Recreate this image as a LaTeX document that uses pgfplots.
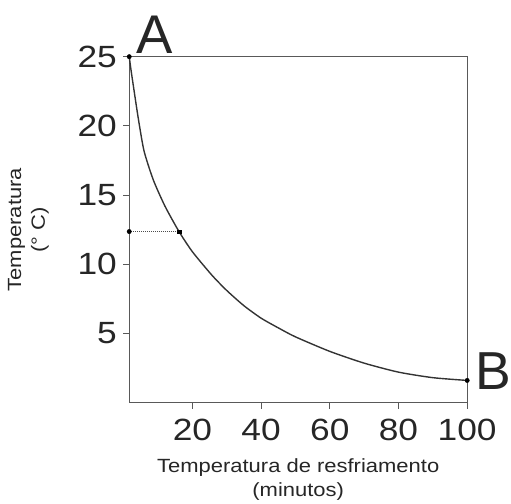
\documentclass[border=0pt]{standalone}
\usepackage{fontspec}
\setmainfont{Liberation Sans}
\newfontfamily\wide{Liberation Sans}[FakeStretch=1.15]
\usepackage{pgfplots}
\pgfplotsset{compat=1.18}

\begin{document}
\begin{tikzpicture}
\begin{axis}[
  scale only axis,
  width=340bp, height=348bp,
  xmin=1.6, xmax=100, ymin=0, ymax=25,
  xtick={20,40,60,80,100},
  ytick={5,10,15,20,25},
  xtick pos=bottom, ytick pos=left,
  tick align=outside, major tick length=6bp,
  axis line style={gray!70!black, line width=0.8bp},
  tick style={gray!70!black, line width=0.8bp},
  /pgf/number format/assume math mode=true,
  tick label style={font=\wide\fontsize{31}{34}\selectfont, text=black!85},
  xticklabel style={yshift=-7bp},
  yticklabel style={xshift=-3bp},
  xlabel={Temperatura de resfriamento\\(minutos)},
  ylabel={Temperatura\\(° C)},
  label style={font=\wide\fontsize{19.3}{24}\selectfont, align=center, text=black!85},
  xlabel style={yshift=-11bp},
  ylabel style={yshift=22bp},
  clip=false,
]
% cooling curve
\addplot[black!80, line width=1.4bp, smooth, tension=0.4] coordinates {
  (1.6,25.0) (2.2,23.9) (2.8,22.9) (4.2,20.6) (5.9,18.2) (8.6,16.1)
  (12,14.2) (16.1,12.36) (20,10.9) (25.7,9.2) (30,8.1) (35,7.0)
  (40,6.1) (45,5.4) (50,4.75) (60,3.7) (70,2.85) (80,2.2) (90,1.8)
  (100,1.6)
};
% half-temperature reading
\addplot[black!70, densely dotted, line width=1bp] coordinates {(1.6,12.36) (16.1,12.36)};
\addplot[only marks, mark=*, mark size=2.2bp, black] coordinates {(1.6,25) (100,1.6) (1.6,12.36)};
\addplot[only marks, mark=square*, mark size=1.8bp, black] coordinates {(16.1,12.36)};
\node[anchor=south west, inner sep=0pt, font=\fontsize{55}{58}\selectfont, text=black!85]
  at (axis cs:1.6,25) [xshift=7bp, yshift=3bp] {A};
\node[anchor=west, inner sep=0pt, font=\fontsize{54}{58}\selectfont, text=black!85]
  at (axis cs:100,1.6) [xshift=8bp, yshift=9bp] {B};
\end{axis}
% page size matching the reference
\path ([xshift=-130bp, yshift=-96bp]current axis.south west)
      ([xshift=41bp, yshift=57bp]current axis.north east);
\end{tikzpicture}
\end{document}
